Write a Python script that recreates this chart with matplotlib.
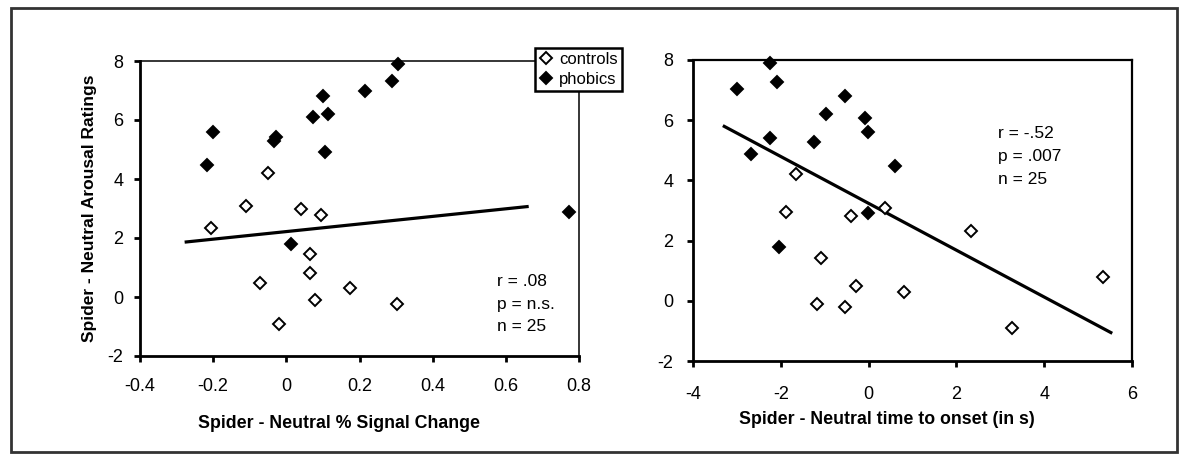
import matplotlib
matplotlib.use("Agg")
import matplotlib.pyplot as plt
from matplotlib.lines import Line2D
from matplotlib.patches import Rectangle

plt.rcParams["font.family"] = ["Liberation Sans", "DejaVu Sans"]
plt.rcParams["axes.unicode_minus"] = False

# Left panel: % signal change vs arousal ratings
sig_ctrl_x = [-0.205, -0.111, -0.051, 0.039, 0.094, 0.065, 0.065, -0.073, 0.079, 0.175, 0.302, -0.021]
sig_ctrl_y = [2.34, 3.10, 4.21, 3.00, 2.78, 1.45, 0.81, 0.47, -0.11, 0.30, -0.25, -0.93]
sig_phob_x = [-0.216, -0.201, -0.034, -0.027, 0.073, 0.099, 0.106, 0.115, 0.214, 0.290, 0.306, 0.773, 0.014]
sig_phob_y = [4.47, 5.59, 5.30, 5.44, 6.10, 6.80, 4.91, 6.21, 7.00, 7.31, 7.91, 2.88, 1.81]
sig_fit_x = [-0.278, 0.6625]
sig_fit_y = [1.86, 3.07]

# Right panel: time to onset vs arousal ratings
ons_ctrl_x = [-1.65, -1.88, -0.41, 0.38, 2.33, -1.08, -0.28, 0.81, -1.18, -0.54, 3.27, 5.33]
ons_ctrl_y = [4.22, 2.96, 2.83, 3.08, 2.31, 1.41, 0.48, 0.28, -0.09, -0.19, -0.92, 0.80]
ons_phob_x = [-2.99, -2.25, -2.09, -0.54, -0.97, -0.09, -0.01, -2.24, -1.25, -2.68, 0.59, -0.01, -2.04]
ons_phob_y = [7.02, 7.91, 7.28, 6.82, 6.20, 6.08, 5.61, 5.42, 5.28, 4.88, 4.48, 2.93, 1.78]
ons_fit_x = [-3.32, 5.55]
ons_fit_y = [5.82, -1.08]

sig_ticks = [-0.4, -0.2, 0, 0.2, 0.4, 0.6, 0.8]
sig_ticklabels = ["-0.4", "-0.2", "0", "0.2", "0.4", "0.6", "0.8"]
ons_ticks = [-4, -2, 0, 2, 4, 6]
y_ticks = [-2, 0, 2, 4, 6, 8]

W, H = 1186, 459
fig = plt.figure(figsize=(W / 100, H / 100), dpi=100)

def px_axes(x0, y0, x1, y1):
    return fig.add_axes([x0 / W, 1 - y1 / H, (x1 - x0) / W, (y1 - y0) / H])

ax1 = px_axes(140, 61, 579, 356)
ax2 = px_axes(693, 60, 1132, 361)

MS = 6
def draw(ax, cx, cy, px, py, fx, fy):
    ax.plot(fx, fy, color="black", lw=2.3, solid_capstyle="butt", zorder=2)
    ax.plot(cx, cy, "D", ms=MS, mfc="white", mec="black", mew=1.4,
            ls="none", zorder=3, clip_on=False)
    ax.plot(px, py, "D", ms=MS, mfc="black", mec="black", mew=1.4,
            ls="none", zorder=3, clip_on=False)
    ax.set_ylim(-2, 8)
    ax.set_yticks(y_ticks)
    ax.tick_params(direction="out", length=4, width=2, labelsize=13,
                   colors="black")
    for s in ["left", "bottom"]:
        ax.spines[s].set_linewidth(2)

draw(ax1, sig_ctrl_x, sig_ctrl_y, sig_phob_x, sig_phob_y, sig_fit_x, sig_fit_y)
ax1.set_xlim(-0.4, 0.8)
ax1.set_xticks(sig_ticks)
ax1.set_xticklabels(sig_ticklabels)
ax1.tick_params(axis="x", pad=12)
ax1.tick_params(axis="y", pad=8)
for s in ["top", "right"]:
    ax1.spines[s].set_linewidth(1.1)
ax1.set_xlabel("Spider - Neutral % Signal Change", fontsize=12.8,
               fontweight="bold")
ax1.xaxis.set_label_coords((339 - 140) / 439, -(415 - 356) / 295)
ax1.set_ylabel("Spider - Neutral Arousal Ratings", fontsize=12.5,
               fontweight="bold")
ax1.yaxis.set_label_coords(-(140 - 97) / 439, 0.5)
for i, t in enumerate(["r = .08", "p = n.s.", "n = 25"]):
    ax1.text(0.575, 0.52 - i * 0.76, t, fontsize=12.5, va="center", ha="left")

draw(ax2, ons_ctrl_x, ons_ctrl_y, ons_phob_x, ons_phob_y, ons_fit_x, ons_fit_y)
ax2.set_xlim(-4, 6)
ax2.set_xticks(ons_ticks)
ax2.tick_params(axis="x", pad=14)
ax2.tick_params(axis="y", pad=10)
for s in ["top", "right"]:
    ax2.spines[s].set_linewidth(1.6)
ax2.set_xlabel("Spider - Neutral time to onset (in s)", fontsize=12.8,
               fontweight="bold")
ax2.xaxis.set_label_coords((887 - 693) / 439, -(411 - 361) / 301)
for i, t in enumerate(["r = -.52", "p = .007", "n = 25"]):
    ax2.text(2.94, 5.56 - i * 0.77, t, fontsize=12.5, va="center", ha="left")

handles = [
    Line2D([0], [0], marker="D", ls="none", ms=MS, mfc="white", mec="black",
           mew=1.4, label="controls"),
    Line2D([0], [0], marker="D", ls="none", ms=MS, mfc="black", mec="black",
           mew=1.4, label="phobics"),
]
leg = fig.legend(handles=handles, loc="upper left",
                 bbox_to_anchor=(535 / W, 1 - 48 / H), fontsize=12,
                 frameon=True, fancybox=False, framealpha=1,
                 edgecolor="black", borderpad=0.25, labelspacing=0.3,
                 handlelength=0.8, handletextpad=0.4, borderaxespad=0)
leg.get_frame().set_linewidth(1.8)

fig.add_artist(Rectangle((11 / W, 1 - 452 / H), (1177 - 11) / W, (452 - 8) / H,
                         transform=fig.transFigure, fill=False,
                         edgecolor="#333333", lw=2))

fig.savefig("out.png", dpi=100, facecolor="white")
